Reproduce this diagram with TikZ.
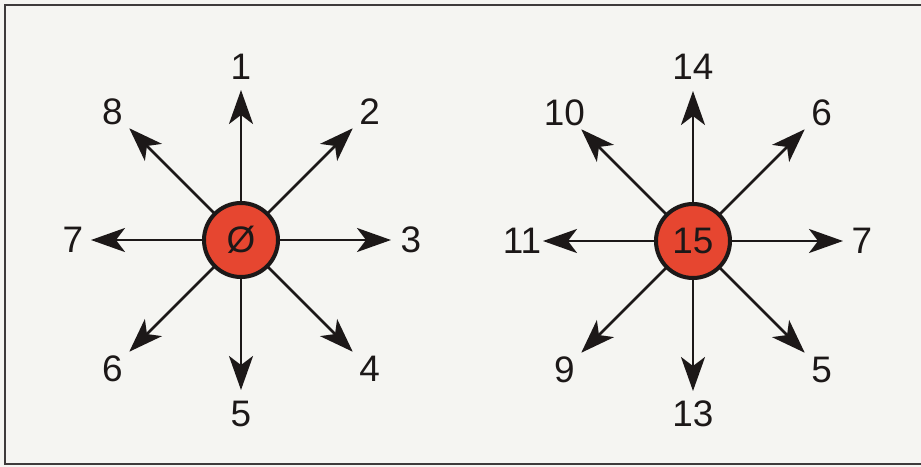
\documentclass[tikz,border=0pt]{standalone}
\usepackage{fontspec}
\setmainfont{Liberation Sans}
\usetikzlibrary{arrows.meta, calc}
\definecolor{paper}{RGB}{245,245,242}
\definecolor{ink}{RGB}{28,24,24}
\definecolor{hub}{RGB}{230,70,48}

\begin{document}
\begin{tikzpicture}[
    x=0.02cm, y=-0.02cm,
    every node/.style={font=\fontsize{21}{24}\selectfont, text=ink},
    hubnode/.style={circle, draw=ink, fill=hub, line width=2.3pt,
                    minimum size=1.48cm, inner sep=0pt},
    lab/.style={inner sep=0pt},
    arr/.style={-{Stealth[length=6.8mm, width=4.8mm, inset=1.8mm]},
                line width=1.6pt, draw=ink},
    frame/.style={line width=1.6pt, draw=ink!85},
]
    % Paper and frame.
    \fill[paper] (0,0) rectangle (921,467);
    \useasboundingbox (0,0) rectangle (921,467);
    \draw[frame] (921,5) -| (5,464) -- (921,464);

    % Hub positions (y runs downwards, so angles turn clockwise).
    \coordinate (p0)  at (241,240);
    \coordinate (p15) at (693,241);

    % Left star.
    \foreach \a/\r/\s/\t [count=\i] in {-90/150/173/1, -45/158/182/2, 0/150/170/3,
            45/158/182/4, 90/150/174/5, 135/158/182/6, 180/150/168/7, -135/158/182/8} {
        \coordinate (ta\i) at ($(p0)+(\a:\r)$);
        \node[lab] (la\i) at ($(p0)+(\a:\s)$) {\t};
        \draw[arr] (p0) -- (ta\i);
    }
    \node[hubnode] (c0) at (p0) {Ø};

    % Right star.
    \foreach \a/\r/\s/\t [count=\i] in {-90/150/174/14, -45/158/182/6, 0/150/169/7,
            45/158/182/5, 90/150/173/13, 135/158/182/9, 180/150/171/11, -135/158/182/10} {
        \coordinate (tb\i) at ($(p15)+(\a:\r)$);
        \node[lab] (lb\i) at ($(p15)+(\a:\s)$) {\t};
        \draw[arr] (p15) -- (tb\i);
    }
    \node[hubnode] (c15) at (p15) {15};
\end{tikzpicture}
\end{document}
